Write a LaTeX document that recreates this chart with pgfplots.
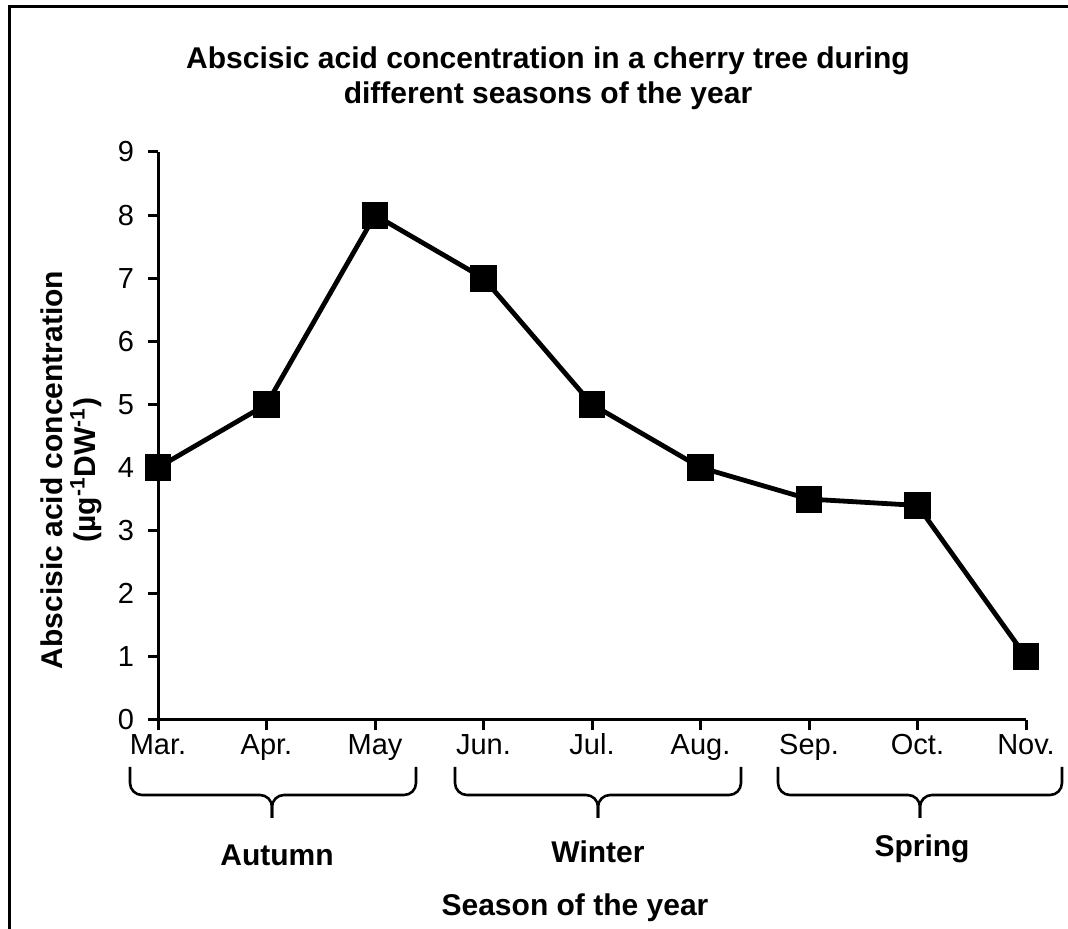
\documentclass[border=0pt]{standalone}
\usepackage{pgfplots}
\pgfplotsset{compat=1.18}
\usepackage{fontspec}
\setmainfont{Liberation Sans}
\begin{document}
\begin{tikzpicture}[x=0.5pt,y=0.5pt]
\useasboundingbox (0,0) rectangle (1068,929);
\draw[line width=1.5pt] (9,0) -- (9,922) -- (1068,922);
\node[align=center,font=\bfseries\fontsize{15}{17.5}\selectfont] at (548,851) {Abscisic acid concentration in a cherry tree during\\different seasons of the year};
\begin{axis}[
  at={(79pt,104.5pt)}, anchor=origin,
  scale only axis, width=434pt, height=284pt,
  xmin=0, xmax=8, ymin=0, ymax=9,
  axis x line*=bottom, axis y line*=left,
  axis line style={line width=1.5pt},
  tick align=outside, major tick length=5pt,
  tick style={line width=1.5pt, black},
  xtick={0,...,8}, ytick={0,...,9},
  xticklabels={Mar.,Apr.,May,Jun.,Jul.,Aug.,Sep.,Oct.,Nov.},
  ticklabel style={font=\fontsize{14.5}{17}\selectfont},
  xticklabel style={text height=0.72em, text depth=0.22em, yshift=-1.5pt},
  yticklabel style={xshift=-3.5pt},
  /pgf/number format/assume math mode=true,
  clip=false,
]
\addplot[black, line width=2.4pt, mark=square*, mark size=5.5pt] coordinates {
(0,4) (1,5) (2,8) (3,7) (4,5) (5,4) (6,3.5) (7,3.4) (8,1)
};
\end{axis}
\node[rotate=90,align=center,font=\bfseries\fontsize{15}{16.5}\selectfont] at (71,459) {Abscisic acid concentration\\(µg\textsuperscript{-1}DW\textsuperscript{-1})};
% braces
\foreach \a/\b/\t in {130/416/272, 455/741/598, 778/1062/920}{
  \draw[line width=1.3pt, rounded corners=6pt] (\a,162) -- (\a,134) -- (\t,134) -- (\t,111);
  \draw[line width=1.3pt, rounded corners=6pt] (\b,162) -- (\b,134) -- (\t,134) -- (\t,111);
}
\node[font=\bfseries\fontsize{15}{17}\selectfont] at (277,74) {Autumn};
\node[font=\bfseries\fontsize{15}{17}\selectfont] at (598,77) {Winter};
\node[font=\bfseries\fontsize{15}{17}\selectfont] at (922,80) {Spring};
\node[font=\bfseries\fontsize{15}{17}\selectfont] at (575,21) {Season of the year};
\end{tikzpicture}
\end{document}
